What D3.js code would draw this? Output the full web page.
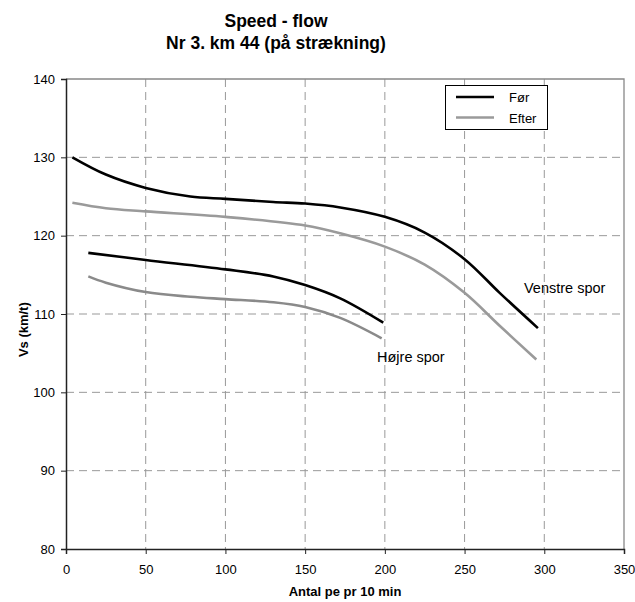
<!DOCTYPE html>
<html><head><meta charset="utf-8">
<script src="https://cdn.jsdelivr.net/npm/d3@7"></script>
<style>body{margin:0;background:#fff}svg{display:block}text{font-family:"Liberation Sans",Arial,sans-serif}</style>
</head><body>
<script>
const titleLines = ["Speed - flow", "Nr 3. km 44 (på strækning)"];
const xLabel = "Antal pe pr 10 min";
const yLabel = "Vs (km/t)";
const xTicks = [0, 50, 100, 150, 200, 250, 300, 350];
const yTicks = [80, 90, 100, 110, 120, 130, 140];
const legendNames = ["Før", "Efter"];

const venstreFoer_x = [4, 25, 50, 78, 100, 130, 150, 172, 200, 225, 250, 272, 296];
const venstreFoer_y = [130.0, 127.8, 126.1, 125.0, 124.7, 124.3, 124.1, 123.6, 122.4, 120.4, 117.0, 112.7, 108.2];
const venstreEfter_x = [4, 25, 50, 100, 150, 172, 200, 225, 250, 272, 295];
const venstreEfter_y = [124.2, 123.5, 123.1, 122.4, 121.3, 120.3, 118.6, 116.3, 112.7, 108.5, 104.2];
const hoejreFoer_x = [14, 50, 100, 130, 150, 172, 199];
const hoejreFoer_y = [117.8, 116.9, 115.7, 114.8, 113.7, 112.0, 108.9];
const hoejreEfter_x = [14, 25, 50, 78, 100, 130, 150, 172, 198];
const hoejreEfter_y = [114.8, 114.0, 112.8, 112.2, 111.9, 111.5, 110.9, 109.5, 106.9];

const W = 635, H = 602;
const m = {left: 66, top: 79, right: 624, bottom: 549};
const svg = d3.select("body").append("svg").attr("width", W).attr("height", H);
const x = d3.scaleLinear().domain([0, 350]).range([m.left, m.right]);
const y = d3.scaleLinear().domain([80, 140]).range([m.bottom, m.top]);

// title
svg.append("text").attr("x", 276).attr("y", 27).attr("text-anchor", "middle")
  .attr("font-size", 17.5).attr("font-weight", "bold").text(titleLines[0]);
svg.append("text").attr("x", 276).attr("y", 49).attr("text-anchor", "middle")
  .attr("font-size", 17.5).attr("font-weight", "bold").text(titleLines[1]);

// grid
const grid = svg.append("g").attr("stroke", "#999").attr("stroke-width", 1).attr("stroke-dasharray", "8,5");
grid.selectAll(".gx").data(xTicks.filter(d => d > 0 && d < 350)).join("line")
  .attr("x1", d => x(d)).attr("x2", d => x(d)).attr("y1", m.top).attr("y2", m.bottom);
grid.selectAll(".gy").data(yTicks.filter(d => d > 80 && d < 140)).join("line")
  .attr("y1", d => y(d)).attr("y2", d => y(d)).attr("x1", m.left).attr("x2", m.right);

// top/right border
svg.append("path").attr("d", `M${m.left},${m.top}H${m.right}V${m.bottom}`)
  .attr("fill", "none").attr("stroke", "#888").attr("stroke-width", 1.3);

// axes
const xAxis = svg.append("g").attr("transform", `translate(0,${m.bottom})`)
  .call(d3.axisBottom(x).tickValues(xTicks).tickSize(5).tickPadding(11));
const yAxis = svg.append("g").attr("transform", `translate(${m.left},0)`)
  .call(d3.axisLeft(y).tickValues(yTicks).tickSize(5).tickPadding(6));
[xAxis, yAxis].forEach(a => {
  a.select(".domain").attr("stroke", "#222").attr("stroke-width", 1.5);
  a.selectAll(".tick line").attr("stroke", "#222");
  a.selectAll("text").attr("font-size", 13).attr("fill", "#000").attr("font-family", '"Liberation Sans",Arial,sans-serif');
});

svg.append("text").attr("x", 345).attr("y", 596).attr("text-anchor", "middle")
  .attr("font-size", 13).attr("font-weight", "bold").text(xLabel);
svg.append("text").attr("transform", `translate(28,${y(108)}) rotate(-90)`).attr("text-anchor", "middle")
  .attr("font-size", 13).attr("font-weight", "bold").text(yLabel);

// lines
const line = d3.line().x(d => x(d[0])).y(d => y(d[1])).curve(d3.curveCatmullRom.alpha(0.5));
const series = [
  {xs: venstreFoer_x, ys: venstreFoer_y, color: "#000"},
  {xs: venstreEfter_x, ys: venstreEfter_y, color: "#9a9a9a"},
  {xs: hoejreFoer_x, ys: hoejreFoer_y, color: "#000"},
  {xs: hoejreEfter_x, ys: hoejreEfter_y, color: "#8a8a8a"}
];
series.forEach(s => {
  svg.append("path").datum(s.xs.map((v, i) => [v, s.ys[i]]))
    .attr("d", line).attr("fill", "none").attr("stroke", s.color).attr("stroke-width", 2.6);
});

// labels
svg.append("text").attr("x", 524).attr("y", 293).attr("font-size", 14.5).text("Venstre spor");
svg.append("text").attr("x", 377).attr("y", 362).attr("font-size", 14.5).text("Højre spor");

// legend
const lg = svg.append("g");
lg.append("rect").attr("x", 445.5).attr("y", 85.5).attr("width", 102).attr("height", 44)
  .attr("fill", "#fff").attr("stroke", "#000").attr("stroke-width", 1);
const lcol = ["#000", "#9a9a9a"];
legendNames.forEach((n, i) => {
  const yy = 97 + i * 20.5;
  lg.append("line").attr("x1", 456).attr("x2", 494).attr("y1", yy).attr("y2", yy)
    .attr("stroke", lcol[i]).attr("stroke-width", 2.6);
  lg.append("text").attr("x", 509).attr("y", yy + 5).attr("font-size", 13).text(n);
});
</script>
</body></html>
